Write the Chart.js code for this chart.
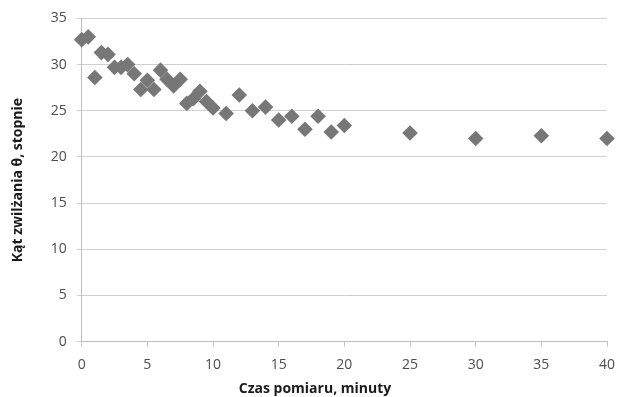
<!DOCTYPE html>
<html>
<head>
<meta charset="utf-8">
<script src="https://cdn.jsdelivr.net/npm/chart.js@4"></script>
<style>
  html, body { margin: 0; padding: 0; background: #fff; }
</style>
</head>
<body>
<canvas id="myChart" width="617" height="397"></canvas>
<script>
// Czas pomiaru (minuty)
const czasPomiaru = [0, 0.5, 1, 1.5, 2, 2.5, 3, 3.5, 4, 4.5, 5, 5.5, 6, 6.5, 7, 7.5, 8, 8.5, 9, 9.5, 10,
    11, 12, 13, 14, 15, 16, 17, 18, 19, 20, 25, 30, 35, 40];

// Kąt zwilżania (stopnie)
const katZwilzania = [32.7, 33.0, 28.6, 31.3, 31.1, 29.7, 29.7, 30.0, 29.0, 27.3, 28.3, 27.3, 29.4, 28.4, 27.7, 28.4, 25.8, 26.3, 27.1, 26.0, 25.3,
    24.7, 26.7, 25.0, 25.4, 24.0, 24.4, 23.0, 24.4, 22.7, 23.4, 22.6, 22.0, 22.3, 22.0];

const tytulX = 'Czas pomiaru, minuty';
const tytulY = 'Kąt zwilżania θ, stopnie';

var ctx = document.getElementById('myChart');

const punkty = czasPomiaru.map((t, i) => ({ x: t, y: katZwilzania[i] }));

var myChart = new Chart(ctx, {
    type: 'scatter',
    data: {
        datasets: [{
            data: punkty,
            pointStyle: 'rectRot',
            pointRadius: 7.8,
            pointBorderWidth: 0,
            backgroundColor: '#777777',
            borderColor: '#777777',
            clip: false
        }]
    },
    options: {
        responsive: false,
        animation: false,
        devicePixelRatio: 1,
        layout: {
            // lewy margines przesuwa tytuł osi X w prawo (jak w oryginale)
            padding: { top: 18, right: 10, left: 23, bottom: 0 }
        },
        plugins: {
            legend: { display: false },
            tooltip: { enabled: false },
            title: {
                display: true,
                position: 'bottom',
                text: tytulX,
                color: '#1a1a1a',
                font: { family: 'Open Sans', size: 14, weight: 'bold' },
                padding: { top: 0, bottom: 0 }
            }
        },
        scales: {
            x: {
                type: 'linear',
                min: 0,
                max: 40,
                ticks: {
                    stepSize: 5,
                    padding: 10,
                    color: '#4d4d4d',
                    font: { family: 'Open Sans', size: 14 }
                },
                grid: {
                    drawOnChartArea: false,
                    drawTicks: true,
                    tickLength: 5,
                    color: '#c4c4c4'
                },
                border: { color: '#bdbdbd' },
                afterFit: function (scale) {
                    scale.height = 38.5;
                    scale.paddingLeft = 0;
                    scale.paddingRight = 0;
                }
            },
            y: {
                min: 0,
                max: 35,
                ticks: {
                    stepSize: 5,
                    padding: 10,
                    color: '#4d4d4d',
                    font: { family: 'Open Sans', size: 14 }
                },
                grid: {
                    color: '#d0d0d0',
                    tickLength: 5
                },
                border: { color: '#bdbdbd' },
                title: {
                    display: true,
                    text: tytulY,
                    color: '#1a1a1a',
                    font: { family: 'Open Sans', size: 14, weight: 'bold' },
                    padding: { top: -13.4, bottom: 0 }
                },
                afterFit: function (scale) { scale.width = 58.7; }
            }
        }
    }
});
</script>
</body>
</html>
